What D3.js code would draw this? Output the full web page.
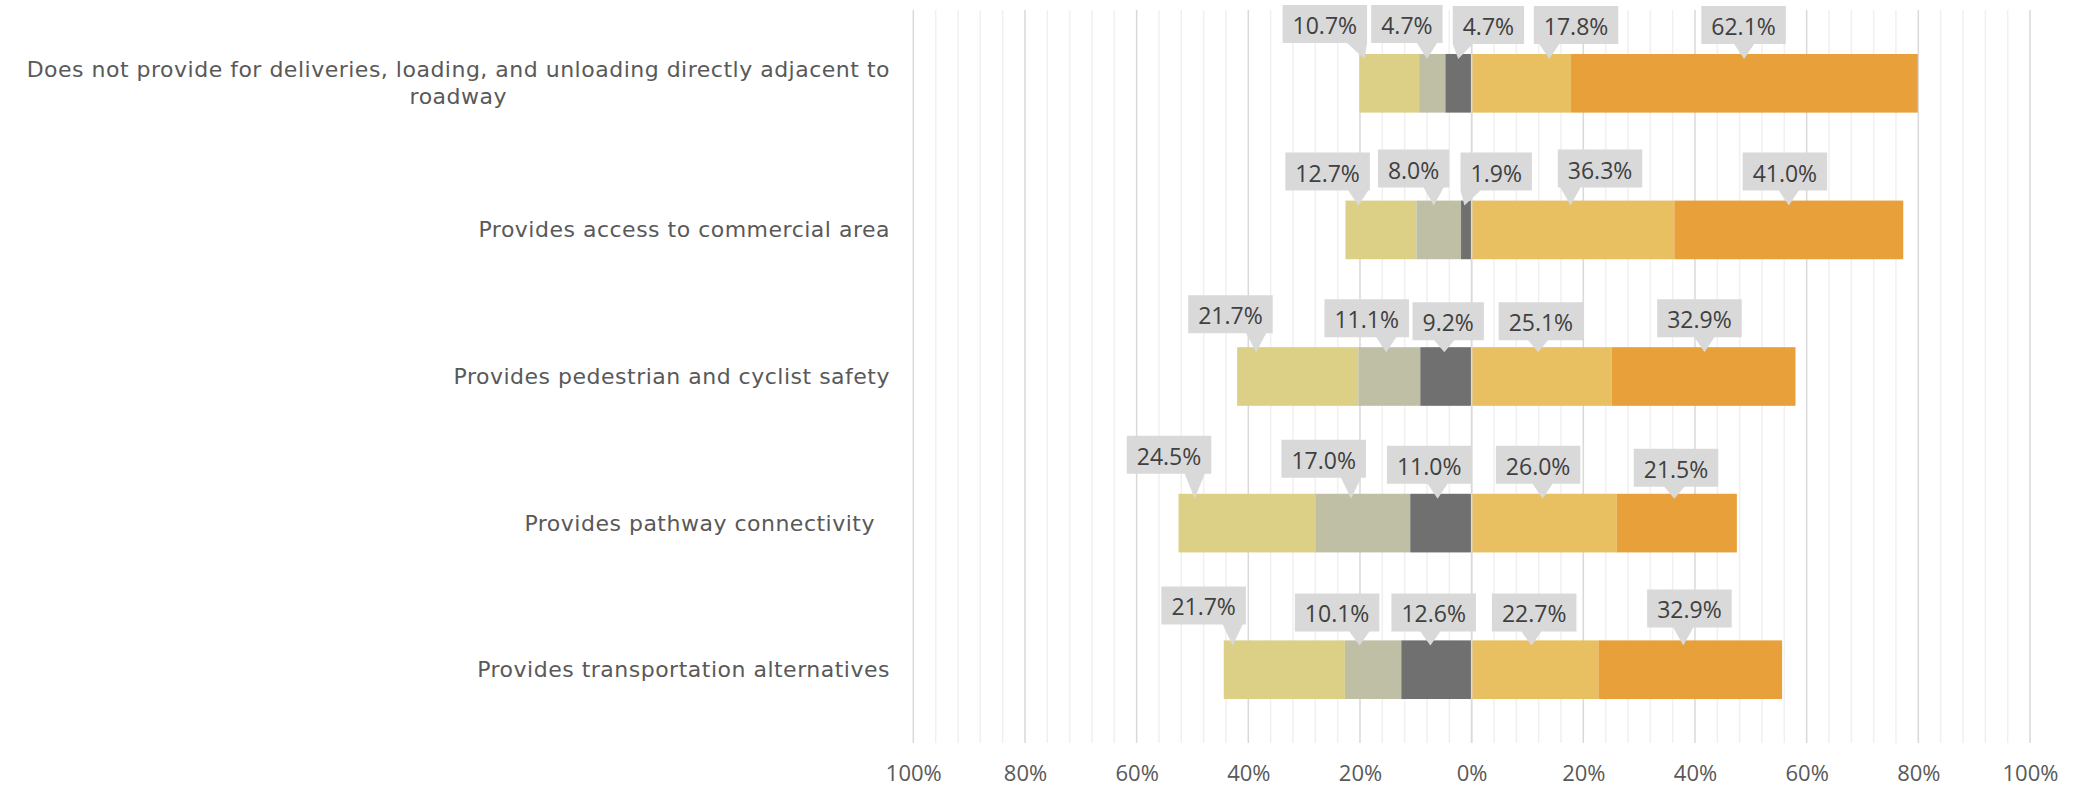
<!DOCTYPE html>
<html>
<head>
<meta charset="utf-8">
<script src="https://cdn.jsdelivr.net/npm/d3@7"></script>
<style>
  html, body { margin: 0; padding: 0; background: #ffffff; }
  svg { display: block; }
  text { font-family: "Open Sans", "DejaVu Sans", sans-serif; }
</style>
</head>
<body>
<svg id="chart" width="2085" height="787"></svg>
<script>
// ---------------- data ----------------
const categories = [
  "Does not provide for deliveries, loading, and unloading directly adjacent to roadway",
  "Provides access to commercial area",
  "Provides pedestrian and cyclist safety",
  "Provides pathway connectivity ",
  "Provides transportation alternatives"
];
// left side (negative), from outermost to innermost
const outerNeg = [10.7, 12.7, 21.7, 24.5, 21.7];
const middleNeg = [4.7, 8.0, 11.1, 17.0, 10.1];
const innerNeg = [4.7, 1.9, 9.2, 11.0, 12.6];
// right side (positive), from innermost to outermost
const innerPos = [17.8, 36.3, 25.1, 26.0, 22.7];
const outerPos = [62.1, 41.0, 32.9, 21.5, 32.9];
const tickValues = [-100, -80, -60, -40, -20, 0, 20, 40, 60, 80, 100];

// ---------------- callout layout (axis units, %) ----------------
// order per row: outerNeg, middleNeg, innerNeg, innerPos, outerPos
const calloutBoxX = [
  [-26.3, -11.6, 3.0, 18.7, 48.7],
  [-25.8, -10.4, 4.4, 23.0, 56.1],
  [-43.2, -18.8, -4.2, 12.4, 40.8],
  [-54.2, -26.5, -7.6, 11.9, 36.6],
  [-48.0, -24.1, -6.8, 11.2, 39.0]
];
const calloutTipX = [
  [-19.2, -8.0, -2.4, 13.9, 48.8],
  [-20.3, -6.8, -1.3, 17.7, 56.8],
  [-38.6, -15.3, -4.9, 11.9, 41.7],
  [-49.6, -21.6, -6.1, 12.7, 36.3],
  [-42.8, -20.1, -7.4, 10.7, 37.9]
];
// box top offset above the bar top (px)
const calloutRise = [
  [49, 49, 48, 48, 48],
  [48, 51, 48, 51, 48],
  [52, 48, 45, 45, 48],
  [58, 54, 48, 48, 45],
  [54, 47, 47, 47, 51]
];

const colors = ["#DCD087", "#BFBFA6", "#707070", "#E8BF61", "#E8A03A"];

// ---------------- chart ----------------
const svg = d3.select("#chart");
const plotTop = 10, plotBottom = 743;
const x = d3.scaleLinear().domain([-100, 100]).range([913.3, 2030]);
const y = d3.scaleBand().domain(categories).range([plotTop, plotBottom])
  .paddingInner(0.6).paddingOuter(0.3);

// gridlines
const minorVals = d3.range(-100, 100.001, 4).filter(v => Math.abs(v % 20) > 0.001);
svg.append("g").selectAll("line").data(minorVals).join("line")
  .attr("x1", d => x(d)).attr("x2", d => x(d))
  .attr("y1", plotTop).attr("y2", plotBottom)
  .attr("stroke", "#F0F0F0").attr("stroke-width", 1.5);
svg.append("g").selectAll("line").data(tickValues).join("line")
  .attr("x1", d => x(d)).attr("x2", d => x(d))
  .attr("y1", plotTop).attr("y2", plotBottom)
  .attr("stroke", "#D9D9D9").attr("stroke-width", 1.5);

// axis labels
const xAxis = d3.axisBottom(x).tickValues(tickValues)
  .tickFormat(d => Math.abs(d) + "%").tickSize(0).tickPadding(0);
const axG = svg.append("g").attr("transform", `translate(0,${plotBottom})`).call(xAxis);
axG.select(".domain").remove();
axG.selectAll("text")
  .attr("y", 38).attr("dy", null)
  .attr("fill", "#595959")
  .style("font-size", "22px")
  .style("font-family", "'Open Sans', sans-serif");

// stacked segments
const segs = [];
categories.forEach((c, i) => {
  const vals = [outerNeg[i], middleNeg[i], innerNeg[i], innerPos[i], outerPos[i]];
  const leftTotal = outerNeg[i] + middleNeg[i] + innerNeg[i];
  let start = -leftTotal;
  vals.forEach((v, j) => {
    segs.push({ cat: c, row: i, idx: j, x0: start, x1: start + v, value: v });
    start += v;
  });
});

svg.append("g").selectAll("rect").data(segs).join("rect")
  .attr("x", d => x(d.x0))
  .attr("width", d => x(d.x1) - x(d.x0))
  .attr("y", d => y(d.cat))
  .attr("height", y.bandwidth())
  .attr("fill", d => colors[d.idx]);

// vertical axis line at 0
svg.append("line")
  .attr("x1", x(0)).attr("x2", x(0))
  .attr("y1", plotTop).attr("y2", plotBottom)
  .attr("stroke", "#D9D9D9").attr("stroke-width", 1.5);

// callouts
const cg = svg.append("g");
segs.forEach(d => {
  const g = cg.append("g");
  const t = g.append("text")
    .text(d.value.toFixed(1) + "%")
    .attr("fill", "#404040")
    .style("font-size", "23px")
    .attr("text-anchor", "middle");
  const tw = t.node().getComputedTextLength();
  const bw = tw + 20, bh = 38;
  const cx = x(calloutBoxX[d.row][d.idx]);
  const barTop = y(d.cat);
  const top = barTop - calloutRise[d.row][d.idx];
  const left = cx - bw / 2, right = cx + bw / 2, bottom = top + bh;
  const tipX = x(calloutTipX[d.row][d.idx]);
  const tipY = barTop + 5;
  const bc = Math.max(left + 10, Math.min(right - 10, tipX));
  const b1 = bc - 10, b2 = bc + 10;
  g.insert("path", "text")
    .attr("d", `M${left},${top}H${right}V${bottom}H${b2}L${tipX},${tipY}L${b1},${bottom}H${left}Z`)
    .attr("fill", "#D9D9D9");
  t.attr("x", cx).attr("y", top + 20).attr("dominant-baseline", "central");
});

// category labels (right-aligned block, lines centred), wrapped by width
const labelRight = 890, maxW = 900;
const lg = svg.append("g");
categories.forEach(c => {
  const t = lg.append("text")
    .attr("fill", "#595959")
    .style("font-family", "'DejaVu Sans', sans-serif")
    .style("font-size", "22px")
    .style("letter-spacing", "0.5px")
    .style("white-space", "pre");
  const words = c.split(" ");
  const lines = [];
  let cur = "";
  const probe = t.append("tspan");
  words.forEach(w => {
    const test = cur ? cur + " " + w : w;
    probe.text(test);
    if (probe.node().getComputedTextLength() > maxW && cur) {
      lines.push(cur); cur = w;
    } else cur = test;
  });
  if (cur) lines.push(cur + (c.endsWith(" ") ? " " : ""));
  probe.remove();
  let wmax = 0;
  lines.forEach(l => {
    const p = t.append("tspan").text(l);
    wmax = Math.max(wmax, p.node().getComputedTextLength());
    p.remove();
  });
  const cx = labelRight - wmax / 2;
  const lh = 27;
  const cy = y(c) + y.bandwidth() / 2;
  const y0 = cy - (lines.length - 1) * lh / 2;
  t.attr("text-anchor", "middle");
  lines.forEach((l, k) => {
    t.append("tspan").attr("x", cx).attr("y", y0 + k * lh)
      .attr("dominant-baseline", "central").text(l);
  });
});
</script>
</body>
</html>
